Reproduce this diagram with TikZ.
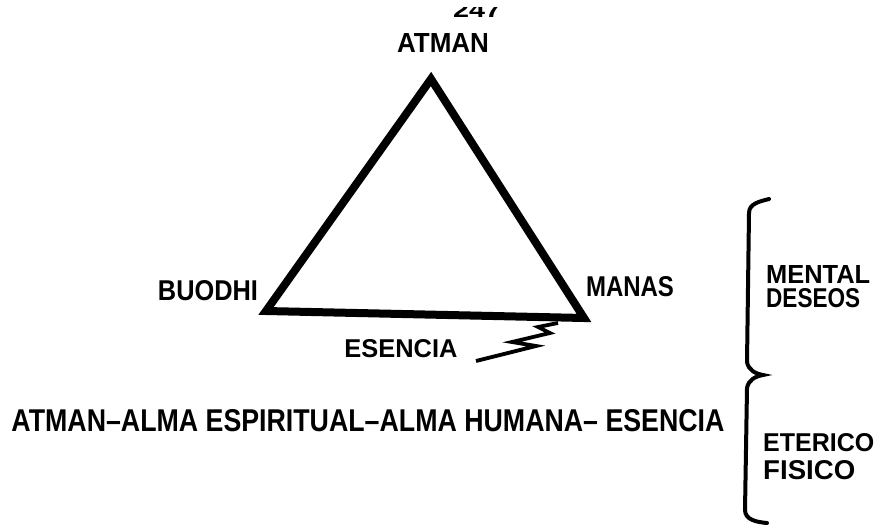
\documentclass[tikz,border=0pt]{standalone}
\usepackage{fontspec}
\setmainfont{Liberation Sans}[FakeStretch=0.82]
\usepackage{graphicx}
\newcommand{\fitt}[3]{\resizebox{#1pt}{#2pt}{\bfseries #3}}
\begin{document}
\begin{tikzpicture}[x=1pt,y=-1pt,
  lbl/.style={inner sep=0pt,anchor=center},
  edge/.style={line width=8pt,line join=miter,line cap=butt},
  bolt/.style={line width=3.8pt,line join=miter},
  brace/.style={line width=4pt,line cap=round}]
\useasboundingbox[fill=white] (0,0) rectangle (877,527);
% partial page number at the top
\begin{scope}
  \clip (440,8) rectangle (510,20);
  \node[lbl] (pg) at (477,10) {\fitt{48}{15}{247}};
\end{scope}
% labels
\node[lbl] (atman) at (443,42.5) {\fitt{92}{19}{ATMAN}};
\node[lbl] (buddhi) at (208,291) {\fitt{100}{20}{BUODHI}};
\node[lbl] (manas) at (630,287) {\fitt{88}{20}{MANAS}};
\node[lbl] (esencia) at (401,348.5) {\fitt{113}{18}{ESENCIA}};
\node[lbl] (chain) at (368,421) {\fitt{713}{22}{ATMAN–ALMA ESPIRITUAL–ALMA HUMANA– ESENCIA}};
\node[lbl,anchor=west] (mental) at (766,274) {\fitt{104}{18}{MENTAL}};
\node[lbl,anchor=west] (deseos) at (766,298.5) {\fitt{94}{19}{DESEOS}};
\node[lbl,anchor=west] (eterico) at (763,442.5) {\fitt{111}{18}{ETERICO}};
\node[lbl,anchor=west] (fisico) at (763,470) {\fitt{92}{19}{FISICO}};
% triangle
\coordinate (A) at (431,79);
\coordinate (B) at (266,311);
\coordinate (M) at (584,318);
\draw[edge] (A) -- (B) -- (M) -- cycle;
% lightning
\coordinate (z0) at (558,323);
\coordinate (z5) at (476,361);
\draw[bolt] (z0) -- (538,327) -- (550,333) -- (512,342) -- (536,346) -- (z5);
% brace
\coordinate (bt) at (769,199);
\coordinate (bm) at (763,375);
\coordinate (bb) at (767,523);
\draw[brace] (bt) to[out=195,in=90] (749,213) -- (747,362)
  to[out=-80,in=170] (bm) to[out=190,in=80] (747,388)
  -- (745,510) to[out=-90,in=175] (bb);
\end{tikzpicture}
\end{document}
